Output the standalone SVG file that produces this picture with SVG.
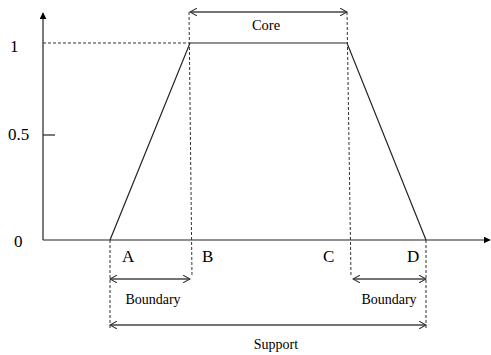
<svg xmlns="http://www.w3.org/2000/svg" width="491" height="355" viewBox="0 0 491 355">
<style>
.t{font-family:"Liberation Serif","Times New Roman",serif;fill:#000}
.ln{stroke:#222;stroke-width:1.2;fill:none}
.ds{stroke:#333;stroke-width:1;stroke-dasharray:3,2;fill:none}
.ar{stroke:#444;stroke-width:1.5;fill:none;marker-start:url(#o);marker-end:url(#o)}
</style>
<defs>
<marker id="f" viewBox="0 0 10 10" refX="9" refY="5" markerWidth="7" markerHeight="7" markerUnits="userSpaceOnUse" orient="auto"><path d="M0,0L10,5L0,10z" fill="#000"/></marker>
<marker id="o" viewBox="0 0 10 10" refX="9" refY="5" markerWidth="8" markerHeight="8" markerUnits="userSpaceOnUse" orient="auto-start-reverse"><path d="M0,0L9,5L0,10" fill="none" stroke="#333" stroke-width="1.3"/></marker>
</defs>
<g id="axes">
<line class="ln" x1="43" y1="240" x2="43" y2="13" marker-end="url(#f)"/>
<line class="ln" x1="43" y1="240" x2="490" y2="240" marker-end="url(#f)"/>
<line class="ln" x1="43" y1="135" x2="55" y2="135"/>
<text class="t" x="10" y="52" font-size="17">1</text>
<text class="t" x="8" y="140" font-size="17">0.5</text>
<text class="t" x="14" y="247" font-size="17">0</text>
</g>
<g id="curve">
<polyline class="ln" points="110,240 190,43 347,43 426,240"/>
</g>
<g id="connectors">
<line class="ds" x1="43" y1="43" x2="189" y2="43"/>
<line class="ds" x1="189" y1="12" x2="192" y2="277"/>
<line class="ds" x1="347" y1="12" x2="351" y2="277"/>
<line class="ds" x1="110" y1="240" x2="110" y2="328"/>
<line class="ds" x1="426" y1="240" x2="426" y2="328"/>
<line class="ar" x1="190" y1="12" x2="347" y2="12"/>
<line class="ar" x1="110" y1="279" x2="190" y2="279"/>
<line class="ar" x1="353" y1="279" x2="426" y2="279"/>
<line class="ar" x1="110" y1="325" x2="426" y2="325"/>
</g>
<g id="labels">
<text class="t" x="266" y="30" font-size="14.5" text-anchor="middle">Core</text>
<text class="t" x="122" y="262" font-size="17">A</text>
<text class="t" x="202" y="262" font-size="17">B</text>
<text class="t" x="323" y="262" font-size="17">C</text>
<text class="t" x="407" y="262" font-size="17">D</text>
<text class="t" x="153" y="304" font-size="14" text-anchor="middle">Boundary</text>
<text class="t" x="389" y="304" font-size="14" text-anchor="middle">Boundary</text>
<text class="t" x="276" y="349" font-size="14" text-anchor="middle">Support</text>
</g>
</svg>
